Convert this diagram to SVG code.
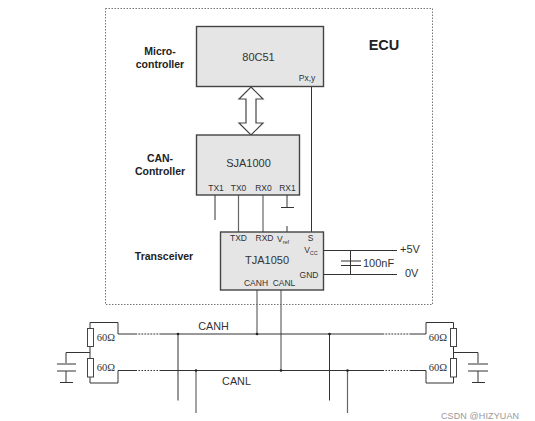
<svg xmlns="http://www.w3.org/2000/svg" width="535" height="421" viewBox="0 0 535 421">
<style>
text{font-family:"Liberation Sans",Arial,sans-serif;fill:#333}
.b{font-weight:bold;font-size:10.500px;text-anchor:middle;fill:#222}
.n{font-size:11px;text-anchor:middle}
.p{font-size:8.500px;text-anchor:middle}
.r{font-family:"Liberation Serif","Times New Roman",serif;font-size:10.500px;text-anchor:middle}
.box{fill:#e5e5e5;stroke:#444;stroke-width:1.400}
.w{fill:none;stroke:#333;stroke-width:1}
.g{fill:none;stroke:#666;stroke-width:1.200}
.res{fill:#fff;stroke:#444;stroke-width:1}
.dot{fill:#222}
.gap{fill:none;stroke:#fff;stroke-width:1.400;stroke-dasharray:1.500 1.500}
</style>
<rect width="535" height="421" fill="#fff"/>
<rect id="ecu" x="105.500" y="8.500" width="327" height="296" fill="none" stroke="#777" stroke-width="1" stroke-dasharray="1.500 1.500"/>
<text x="384" y="50" font-size="14.500" font-weight="bold" text-anchor="middle" style="fill:#222">ECU</text>
<g id="connectors">
<path class="w" d="M311.500 86V232M215 195V220M287 195V208M281 207.500H294M287 226V232M323 250.500H397M323 274.500H397M350.500 250.500V275M341 261H361M341 265.500H361"/>
<path class="g" d="M238.500 195V232M263 195V232M257 290V334M281 290V370.500"/>
<path d="M251 87L263 99H256V123H263L251 135L239 123H246V99H239Z" fill="#fff" stroke="#444" stroke-width="1.200"/>
<path class="w" d="M118 334H426M118 370.500H426"/>
<path class="w" d="M118 334V322.500H90V383H118V370.500M66 363V352.500H90M57 364H76M57 371H76M66 371V382.500M60 382.500H73"/>
<path class="w" d="M426 334V322.500H453.500V383H426V370.500M478 363V352.500H453.500M468 364H488M468 371H488M478 371V382.500M472 382.500H485"/>
<path class="w" d="M178 334V400.500M329.500 334V400.500"/>
<path class="g" d="M196 370.500V413M347.500 370.500V413"/>
<path class="gap" d="M137 334H160M137 370.500H160M384 334H410M384 370.500H410"/>
<circle class="dot" cx="178" cy="334" r="1.300"/><circle class="dot" cx="257" cy="334" r="1.300"/><circle class="dot" cx="329.500" cy="334" r="1.300"/>
<circle class="dot" cx="196" cy="370.500" r="1.300"/><circle class="dot" cx="281" cy="370.500" r="1.300"/><circle class="dot" cx="347.500" cy="370.500" r="1.300"/>
</g>
<g id="label-micro"><text class="b" x="160" y="55">Micro-</text><text class="b" x="160" y="68">controller</text></g>
<g id="label-can"><text class="b" x="160" y="162">CAN-</text><text class="b" x="160" y="175">Controller</text></g>
<text class="b" x="164" y="260">Transceiver</text>
<g id="n80c51">
<rect class="box" x="196.500" y="26.500" width="127" height="60"/>
<text class="n" x="258.500" y="61">80C51</text>
<text class="p" x="307" y="81">Px,y</text>
</g>
<g id="sja1000">
<rect class="box" x="196.500" y="135" width="103" height="60"/>
<text class="n" x="248.500" y="167">SJA1000</text>
<text class="p" x="216" y="191">TX1</text><text class="p" x="238.500" y="191">TX0</text><text class="p" x="263.500" y="191">RX0</text><text class="p" x="287.500" y="191">RX1</text>
</g>
<g id="tja1050">
<rect class="box" x="220.500" y="232" width="103" height="58"/>
<text class="n" x="267" y="264">TJA1050</text>
<text class="p" x="238.500" y="241">TXD</text><text class="p" x="264.500" y="241">RXD</text>
<text class="p" x="283" y="242">V<tspan font-size="5.500" dy="2">ref</tspan></text>
<text class="p" x="310.500" y="241">S</text>
<text class="p" x="311" y="253">V<tspan font-size="5.500" dy="2">CC</tspan></text>
<text class="p" x="309" y="278">GND</text>
<text class="p" x="256" y="286">CANH</text><text class="p" x="284" y="286">CANL</text>
</g>
<g id="supply">
<text x="400" y="253" font-size="11" style="fill:#333">+5V</text>
<text x="363" y="267" font-size="11" style="fill:#333">100nF</text>
<text x="405" y="277" font-size="11" style="fill:#333">0V</text>
</g>
<g id="term-left">
<rect class="res" x="87.500" y="328.500" width="6" height="18"/>
<rect class="res" x="87.500" y="358.500" width="6" height="18.500"/>
<text class="r" x="106" y="341">60Ω</text><text class="r" x="106" y="371">60Ω</text>
</g>
<g id="term-right">
<rect class="res" x="450.500" y="328.500" width="6" height="18"/>
<rect class="res" x="450.500" y="358.500" width="6" height="18.500"/>
<text class="r" x="438" y="341">60Ω</text><text class="r" x="438" y="371">60Ω</text>
</g>
<text x="213.500" y="330" font-size="10.800" text-anchor="middle">CANH</text>
<text x="236.500" y="385" font-size="10.800" text-anchor="middle">CANL</text>
<text x="441" y="418.500" font-size="9" style="fill:#999" textLength="78">CSDN @HIZYUAN</text>
</svg>
